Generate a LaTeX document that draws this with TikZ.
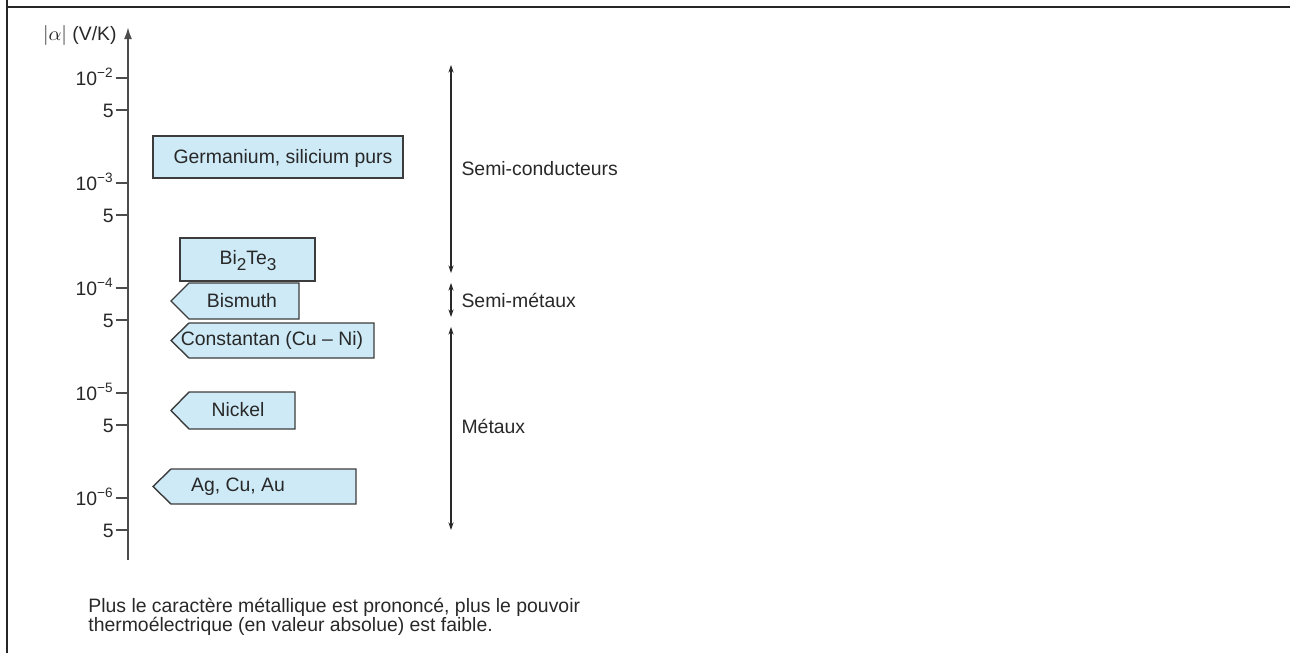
\documentclass[tikz,border=0pt]{standalone}
\usepackage{fontspec}
\setmainfont{Liberation Sans}
\usetikzlibrary{arrows.meta}
\definecolor{boxblue}{RGB}{206,234,247}
\definecolor{boxline}{RGB}{60,60,60}
\definecolor{inkgray}{RGB}{40,40,40}
\newcommand{\lowidx}[1]{\raisebox{-3pt}{\fontsize{8.6}{8}\selectfont #1}}
\tikzset{
  txt/.style={text=inkgray, font=\fontsize{9.7}{8}\selectfont, inner sep=0},
  matbox/.style={fill=boxblue, draw=boxline, line width=0.7pt},
  spanarrow/.style={draw=inkgray, line width=0.55pt, {Stealth[length=3.8pt,width=2.6pt]}-{Stealth[length=3.8pt,width=2.6pt]}},
  tickmark/.style={draw=black!70, line width=0.75pt},
}

\begin{document}
\begin{tikzpicture}[x=0.5pt, y=-0.5pt]
\useasboundingbox (0,0) rectangle (1290,653);
% frame
\draw[line width=1pt, black!85] (7,0) -- (7,653);
\draw[line width=1pt, black!85] (7,7) -- (1290,7);

% axis
\draw[line width=1pt, black!70, -{Latex[length=6pt,width=4pt]}] (128,560) -- (128,27);
\node[txt, anchor=base east] (unit) at (117,40) {$|\alpha|$ (V/K)};
\foreach \k [evaluate=\k as \yk using 78+105*(\k-2)] in {2,...,6} {
  \draw[tickmark] (116,\yk) -- (128,\yk);
  \node[txt, anchor=base east] (dec\k) at (114,\yk+7) {10\textsuperscript{−\k}};
  \draw[tickmark] (116,\yk+32) -- (128,\yk+32);
  \node[txt, anchor=base east] (five\k) at (114,\yk+39) {5};
}

% materiaux
\draw[matbox] (153,136) rectangle (403,178);
\node[txt] (gesi) at (283,158) {Germanium, silicium purs};
\draw[matbox] (180,238) rectangle (315,281);
\node[txt, anchor=base] (bite) at (248,264) {Bi\lowidx{2}Te\lowidx{3}};
\draw[matbox] (171,301) -- (189,283) -- (299,283) -- (299,319) -- (189,319) -- cycle;
\node[txt] (bism) at (242,301) {Bismuth};
\draw[matbox] (171,340.5) -- (189,323) -- (374,323) -- (374,358) -- (189,358) -- cycle;
\node[txt] (const) at (272,340) {Constantan (Cu – Ni)};
\draw[matbox] (171,410.5) -- (189,392) -- (295,392) -- (295,429) -- (189,429) -- cycle;
\node[txt] (nick) at (238,410) {Nickel};
\draw[matbox] (153,486.5) -- (171,469) -- (356,469) -- (356,504) -- (171,504) -- cycle;
\node[txt] (agcu) at (238,487) {Ag, Cu, Au};

% domaines
\coordinate (sc1) at (451,65);  \coordinate (sc2) at (451,273);
\coordinate (sm1) at (451,283); \coordinate (sm2) at (451,317);
\coordinate (me1) at (451,327); \coordinate (me2) at (451,530);
\draw[spanarrow] (sc1) -- (sc2) node[txt, midway, anchor=west, xshift=5pt] (semic) {Semi-conducteurs};
\draw[spanarrow] (sm1) -- (sm2) node[txt, midway, anchor=west, xshift=5pt] (semim) {Semi-métaux};
\draw[spanarrow] (me1) -- (me2) node[txt, midway, anchor=west, xshift=5pt, yshift=1pt] (metal) {Métaux};

\node[txt, anchor=base west] (note1) at (88,612) {Plus le caractère métallique est prononcé, plus le pouvoir};
\node[txt, anchor=base west] (note2) at (88,631) {thermoélectrique (en valeur absolue) est faible.};
\end{tikzpicture}
\end{document}
